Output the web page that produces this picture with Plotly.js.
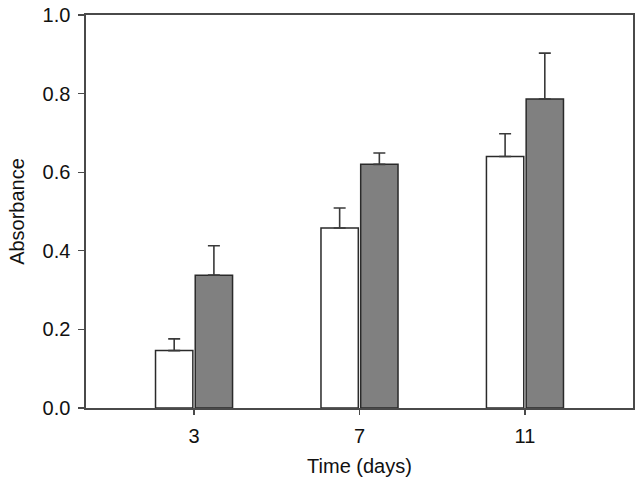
<!DOCTYPE html>
<html>
<head>
<meta charset="utf-8">
<script src="https://cdn.plot.ly/plotly-3.0.1.min.js"></script>
<style>
  html, body { margin: 0; padding: 0; background: #fff; }
  #chart { width: 641px; height: 489px; }
</style>
</head>
<body>
<div id="chart"></div>
<script>
// Absorbance over time, two groups, mean + upper error bar
const days = ['3', '7', '11'];
const whiteVals = [0.146, 0.458, 0.640];
const whiteErr = [0.030, 0.051, 0.058];
const grayVals = [0.338, 0.620, 0.786];
const grayErr = [0.075, 0.029, 0.117];

const AXIS = '#4a4a4a';
const FONT = { family: 'Liberation Sans, Arial, sans-serif', size: 20, color: '#111' };

function barTrace(y, err, fill) {
  return {
    type: 'bar', x: days, y,
    marker: { color: fill, line: { color: '#2a2a2a', width: 1.5 } },
    error_y: { type: 'data', symmetric: false, array: err, arrayminus: err.map(() => 0),
      color: '#3a3a3a', thickness: 1.6, width: 6 },
    showlegend: false, hoverinfo: 'skip',
  };
}

const traces = [barTrace(whiteVals, whiteErr, '#ffffff'), barTrace(grayVals, grayErr, '#808080')];

const layout = {
  width: 641, height: 489,
  paper_bgcolor: '#fff', plot_bgcolor: '#fff',
  font: FONT,
  margin: { l: 86, r: 8, t: 15, b: 81 },
  barmode: 'group', bargap: 0.52, bargroupgap: 0.06,
  xaxis: {
    type: 'category', range: [-0.653, 2.653],
    showline: true, linecolor: AXIS, linewidth: 1.6, mirror: true,
    ticks: 'outside', ticklen: 5, tickwidth: 1.3, tickcolor: AXIS,
    ticklabelstandoff: 4,
    showgrid: false, zeroline: false,
    tickfont: FONT,
    title: { text: 'Time (days)', font: FONT, standoff: 13 },
  },
  yaxis: {
    range: [0, 1.0], dtick: 0.2, tickformat: '.1f',
    showline: true, linecolor: AXIS, linewidth: 1.6, mirror: true,
    ticks: 'outside', ticklen: 6, tickwidth: 1.3, tickcolor: AXIS,
    ticklabelstandoff: 4,
    showgrid: false, zeroline: false,
    tickfont: FONT,
    title: { text: 'Absorbance', font: FONT, standoff: 12 },
  },
};

Plotly.newPlot('chart', traces, layout, { displayModeBar: false, staticPlot: true });
</script>
</body>
</html>
